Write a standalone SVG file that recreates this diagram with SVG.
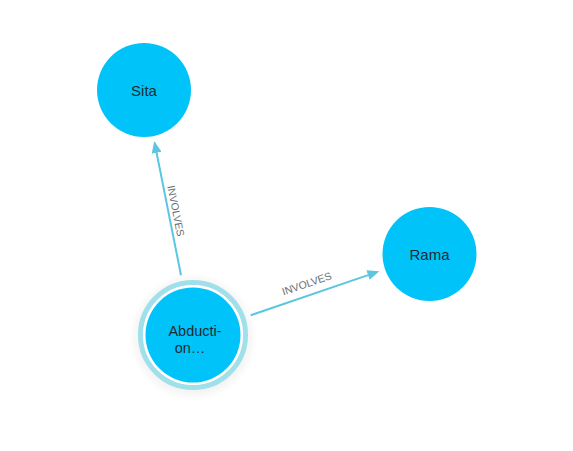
<svg xmlns="http://www.w3.org/2000/svg" width="573" height="451" viewBox="0 0 573 451">
<style>
.node{fill:#00c3f9}
.nlabel{font-family:"Liberation Sans",Arial,sans-serif;font-size:15px;fill:#1d2b33;text-anchor:middle}
.nlabel2{font-family:"Liberation Sans",Arial,sans-serif;font-size:14.5px;fill:#1d2b33;text-anchor:middle}
.edge{stroke:#5cc6e0;stroke-width:2;fill:none}
.elabel{font-family:"Liberation Sans",Arial,sans-serif;font-size:10.5px;fill:#6b6f73;text-anchor:middle;dominant-baseline:middle}
</style>
<defs>
<marker id="arrow" markerUnits="userSpaceOnUse" markerWidth="12" markerHeight="10" refX="0" refY="5" orient="auto" viewBox="0 0 12 10">
<path d="M0,0 L12,5 L0,10 z" fill="#5cc6e0"/>
</marker>
<radialGradient id="glow">
<stop offset="0.75" stop-color="#000" stop-opacity="0.07"/>
<stop offset="1" stop-color="#000" stop-opacity="0"/>
</radialGradient>
</defs>
<rect width="573" height="451" fill="#ffffff"/>
<g id="connectors">
<line class="edge" x1="181" y1="275.2" x2="156.6" y2="152.8" marker-end="url(#arrow)"/>
<text class="elabel" transform="translate(175,211) rotate(78.7)">INVOLVES</text>
<line class="edge" x1="250.7" y1="315.2" x2="368" y2="275.1" marker-end="url(#arrow)"/>
<text class="elabel" transform="translate(307,284.5) rotate(-18.9)">INVOLVES</text>
</g>
<g id="node-sita">
<circle class="node" cx="144" cy="90" r="47"/>
<text class="nlabel" x="144" y="96">Sita</text>
</g>
<g id="node-rama">
<circle class="node" cx="429.5" cy="254" r="47"/>
<text class="nlabel" x="429.5" y="260">Rama</text>
</g>
<g id="node-abduction">
<circle cx="193" cy="337" r="64" fill="url(#glow)"/>
<circle cx="193" cy="335" r="52.5" fill="none" stroke="#9fe0ea" stroke-width="5"/>
<circle cx="193" cy="335" r="50" fill="#ffffff"/>
<circle class="node" cx="193" cy="335" r="47.5"/>
<text class="nlabel2" x="195" y="335.5">Abducti-</text>
<text class="nlabel2" x="190" y="352.5">on…</text>
</g>
</svg>
